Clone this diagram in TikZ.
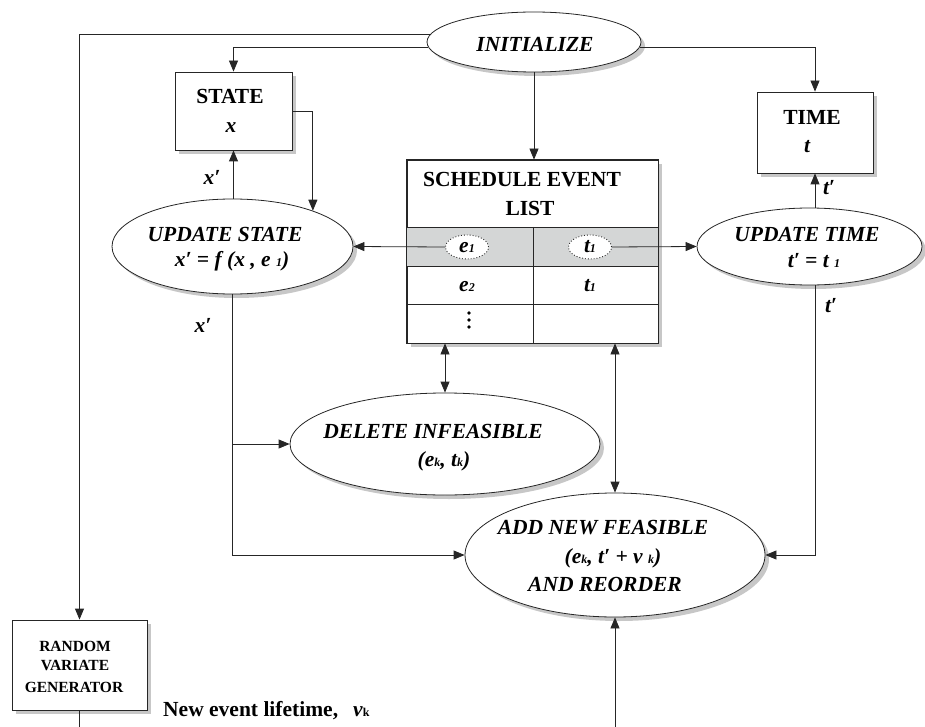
\documentclass[tikz,border=0pt]{standalone}
\usepackage{fontspec}
\setmainfont{Liberation Serif}
\usetikzlibrary{shapes.geometric,shadows,arrows.meta}

% small index set on the baseline, as in e1, t1, ek
\newcommand\lowidx[1]{{\fontsize{12}{12}\selectfont #1}}

\begin{document}
\begin{tikzpicture}[x=1pt,y=-1pt,
  wire/.style={draw=black!85, line width=0.8pt},
  arr/.style={wire, -{Triangle[length=11pt,width=9pt]}},
  darr/.style={wire, {Triangle[length=11pt,width=9pt]}-{Triangle[length=11pt,width=9pt]}},
  dropsh/.style={drop shadow={shadow xshift=4pt,shadow yshift=-4pt,fill=black!22,opacity=1}},
  box/.style={rectangle, draw=black!85, line width=0.8pt, fill=white, dropsh, inner sep=0pt},
  oval/.style={ellipse, draw=black!85, line width=0.8pt, fill=white, dropsh, inner sep=0pt},
  cell/.style={ellipse, draw=black!85, dotted, line width=0.9pt, fill=white,
               minimum width=43pt, minimum height=24pt, inner sep=0pt},
  lab/.style={font=\fontsize{21.5}{25}\selectfont\bfseries, anchor=base, inner sep=0pt},
  ilab/.style={lab, font=\fontsize{21.5}{25}\selectfont\bfseries\itshape},
  slab/.style={lab, font=\fontsize{15.5}{18}\selectfont\bfseries},
]
\useasboundingbox (0,0) rectangle (925,727);
\definecolor{rowgray}{HTML}{D4D6D6}

% ---------- blocks ----------
\node[oval, minimum width=214pt, minimum height=60pt] (init) at (534,42) {};
\node[box, minimum width=117pt, minimum height=78pt] (state) at (233.5,111) {};
\node[box, minimum width=116pt, minimum height=81pt] (time) at (815,132.5) {};
\node[box, minimum width=251pt, minimum height=183pt] (sel) at (532.5,251.5) {};
\node[oval, minimum width=241pt, minimum height=95pt] (us) at (232.5,246.5) {};
\node[oval, minimum width=225pt, minimum height=77pt] (ut) at (809.5,246.5) {};
\node[oval, minimum width=310pt, minimum height=102pt] (del) at (445,444) {};
\node[oval, minimum width=300pt, minimum height=124pt] (add) at (615,555) {};
\node[box, minimum width=135pt, minimum height=90pt] (rvg) at (79.5,665) {};

% ---------- event list table ----------
\fill[rowgray] (407,227) rectangle (658,266);
\draw[wire] (407,227) -- (658,227);
\draw[wire] (407,266) -- (658,266);
\draw[wire] (407,304) -- (658,304);
\draw[wire] (533,227) -- (533,343);
\draw[wire] (sel.north west) rectangle (sel.south east);
\node[cell] (e1) at (467,247) {};
\node[cell] (t1) at (590,247) {};
% vertical ellipsis in the third row
\fill (469,313) circle (1.9pt) (469,320) circle (1.9pt) (469,327) circle (1.9pt);

% ---------- texts ----------
\node[ilab] (initT) at (535,52) {INITIALIZE};
\node[lab] (stateT) at (230,104) {STATE};
\node[ilab] (stateX) at (231,133) {x};
\node[lab] (timeT) at (812,125) {TIME};
\node[ilab] (timeX) at (807,153) {t};
\node[ilab] (xpa) at (212,185) {x′};
\node[ilab] (tpa) at (829,195) {t′};
\node[lab] (selA) at (522,187) {SCHEDULE EVENT};
\node[lab] (selB) at (530,215) {LIST};
\node[ilab] (e1T) at (467,252) {e\lowidx{1}};
\node[ilab] (t1T) at (590,252) {t\lowidx{1}};
\node[ilab] (e2T) at (467,291) {e\lowidx{2}};
\node[ilab] (t1bT) at (590,291) {t\lowidx{1}};
\node[ilab] (usA) at (225,241) {UPDATE STATE};
\node[ilab] (usB) at (232,266) {x′ = f (x , e \lowidx{1})};
\node[ilab] (utA) at (807,241) {UPDATE TIME};
\node[ilab] (utB) at (814,267) {t′ = t \lowidx{1}};
\node[ilab] (tpb) at (831,312) {t′};
\node[ilab] (xpb) at (203,332) {x′};
\node[ilab] (delA) at (433,438) {DELETE INFEASIBLE};
\node[ilab] (delB) at (444,466) {(e\lowidx{k}, t\lowidx{k})};
\node[ilab] (addA) at (603,534) {ADD NEW FEASIBLE};
\node[ilab] (addB) at (613,563) {(e\lowidx{k}, t′ + v \lowidx{k})};
\node[ilab] (addC) at (605,591) {AND REORDER};
\node[slab] (rvgA) at (75,651) {RANDOM};
\node[slab] (rvgB) at (75,670) {VARIATE};
\node[slab] (rvgC) at (74,692) {GENERATOR};
\node[lab, anchor=base west] (life) at (163,716) {New event lifetime,};
\node[lab, anchor=base west] (lifeV) at (353,716) {\textit{v}\lowidx{k}};

% ---------- connectors ----------
\coordinate (feed) at (615,727);
\coordinate (rvgout) at (79.5,727);
\draw[arr] (init.183) -| (state.north);
\draw[arr] (init.176) -| (rvg.north);
\draw[arr] (init.-3) -| (time.north);
\draw[arr] (init.south) -- (init.south |- sel.north);
\draw[arr] (state.east) -| (us.24);
\draw[arr] (us.north -| state.south) -- (state.south);
\draw[arr] (e1.west) -- (us.east);
\draw[arr] (t1.east) -- (ut.west);
\draw[arr] (ut.north -| time.south) -- (time.south);
\draw[arr] (us.south) |- (add.west);
\draw[arr] (us.south |- del.west) -- (del.west);
\draw[darr] (del.north |- sel.south) -- (del.north);
\draw[darr] (add.north |- sel.south) -- (add.north);
\draw[arr] (ut.south -| time.south) |- (add.east);
\draw[arr] (feed) -- (add.south);
\draw[wire] (rvg.south) -- (rvgout);
\end{tikzpicture}
\end{document}
